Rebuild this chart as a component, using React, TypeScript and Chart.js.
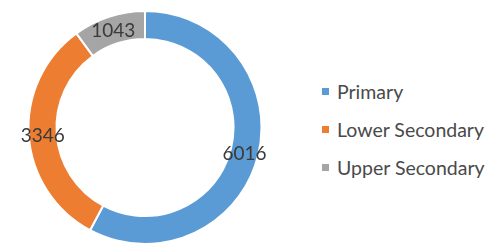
import React, { useEffect, useRef } from "react";
import { Chart, registerables } from "chart.js";

Chart.register(...registerables);

const categories = ["Primary", "Lower Secondary", "Upper Secondary"];
const values = [6016, 3346, 1043];
const colors = ["#5B9BD5", "#ED7D31", "#A5A5A5"];

const FONT = "Lato, 'Open Sans', sans-serif";

const labelPlugin = {
  id: "sliceLabels",
  afterDatasetsDraw(chart: any) {
    const ctx = chart.ctx;
    const meta = chart.getDatasetMeta(0);
    ctx.save();
    ctx.font = `19px ${FONT}`;
    ctx.fillStyle = "#3a3a3a";
    ctx.textAlign = "center";
    ctx.textBaseline = "middle";
    meta.data.forEach((arc: any, i: number) => {
      const p = arc.tooltipPosition();
      ctx.fillText(String(chart.data.datasets[0].data[i]), p.x, p.y + 1);
    });
    ctx.restore();
  },
};

export default function App() {
  const ref = useRef<HTMLCanvasElement>(null);
  useEffect(() => {
    if (!ref.current) return;
    const chart = new Chart(ref.current, {
      type: "doughnut",
      data: {
        labels: categories,
        datasets: [
          {
            data: values,
            backgroundColor: colors,
            borderColor: "#ffffff",
            borderWidth: 2,
          },
        ],
      },
      options: {
        animation: false,
        responsive: false,
        cutout: "76%",
        layout: { padding: { top: 10, bottom: 0, left: 0, right: 0 } },
        plugins: {
          legend: { display: false },
          tooltip: { enabled: false },
        },
      },
      plugins: [labelPlugin],
    });
    return () => chart.destroy();
  }, []);

  return (
    <div
      style={{
        position: "fixed",
        left: 0,
        top: 0,
        width: 486,
        height: 245,
        background: "#fff",
        overflow: "hidden",
      }}
    >
      <canvas
        ref={ref}
        width={290}
        height={245}
        style={{ position: "absolute", left: 0, top: 0, width: 290, height: 245 }}
      />
      <div
        style={{
          position: "absolute",
          left: 322,
          top: 79,
          fontFamily: FONT,
          fontSize: 19.5,
          color: "#4a4a4a",
        }}
      >
        {categories.map((c, i) => (
          <div
            key={c}
            style={{
              display: "flex",
              alignItems: "center",
              height: 24,
              marginBottom: 14,
              whiteSpace: "nowrap",
            }}
          >
            <span
              style={{
                display: "inline-block",
                width: 7,
                height: 7,
                background: colors[i],
                marginRight: 8,
              }}
            />
            <span>{c}</span>
          </div>
        ))}
      </div>
    </div>
  );
}
